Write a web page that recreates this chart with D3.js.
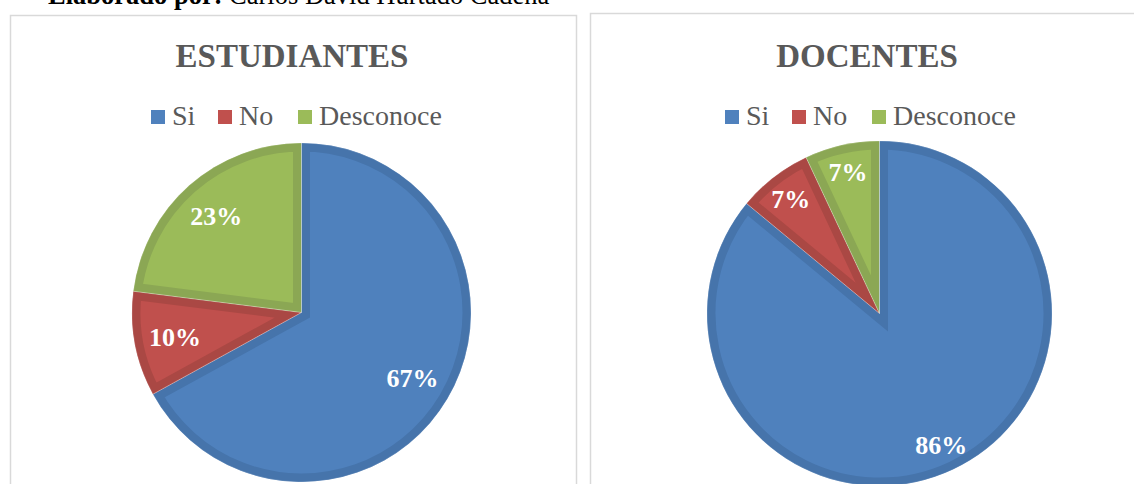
<!DOCTYPE html>
<html><head><meta charset="utf-8">
<script src="https://cdn.jsdelivr.net/npm/d3@7"></script>
<style>html,body{margin:0;padding:0;background:#fff;}svg{display:block;}</style>
</head><body>
<svg id="c" width="1134" height="484"></svg>
<script>
const categories = ["Si", "No", "Desconoce"];
const estudiantesValues = [67, 10, 23];
const docentesValues = [86, 7, 7];
const chartTitles = ["ESTUDIANTES", "DOCENTES"];
const fillColors = ["#4F81BD", "#C0504D", "#9BBB59"];
const edgeColors = ["#4674AB", "#AA4844", "#8BA754"];

const svg = d3.select("#c");
const serif = "Liberation Serif, Times New Roman, Tinos, serif";

// caption at top (cut off by the page edge, as in the reference)
const cap = svg.append("text").attr("x", 48).attr("y", 4)
  .attr("font-family", serif).attr("font-size", 26.5).attr("fill", "#000");
cap.append("tspan").attr("font-weight", "bold").text("Elaborado por: ");
cap.append("tspan").text("Carlos David Hurtado Cadena");

const panels = [
  {values: estudiantesValues, title: chartTitles[0], box: [10, 15, 566, 500], cx: 301.5, cy: 312.5, r: 169.5, titleX: 292, legendX: 151, lab: 0.76},
  {values: docentesValues, title: chartTitles[1], box: [590, 13, 560, 500], cx: 879.5, cy: 313.5, r: 172.5, titleX: 867, legendX: 725, lab: 0.84}
];

panels.forEach((p, pi) => {
  svg.append("rect").attr("x", p.box[0] + 0.5).attr("y", p.box[1] + 0.5)
    .attr("width", p.box[2]).attr("height", p.box[3])
    .attr("fill", "#fff").attr("stroke", "#D9D9D9").attr("stroke-width", 1.5);

  svg.append("text").attr("x", p.titleX).attr("y", 67).attr("text-anchor", "middle")
    .attr("font-family", serif).attr("font-weight", "bold").attr("font-size", 33)
    .attr("fill", "#595959").text(p.title);

  // legend
  const lg = svg.append("g").attr("transform", `translate(${p.legendX},0)`);
  const offsets = [0, 67, 147];
  categories.forEach((c, i) => {
    lg.append("rect").attr("x", offsets[i]).attr("y", 110).attr("width", 14).attr("height", 14)
      .attr("fill", fillColors[i]);
    lg.append("text").attr("x", offsets[i] + 21).attr("y", 125)
      .attr("font-family", serif).attr("font-size", 28).attr("fill", "#595959").text(c);
  });

  const pie = d3.pie().sort(null).value(d => d)(p.values);
  const arc = d3.arc().innerRadius(0).outerRadius(p.r);
  const g = svg.append("g").attr("transform", `translate(${p.cx},${p.cy})`);
  const defs = svg.append("defs");
  pie.forEach((d, i) => {
    const id = `clip${pi}_${i}`;
    defs.append("clipPath").attr("id", id).append("path").attr("d", arc(d));
    g.append("path").attr("d", arc(d)).attr("fill", fillColors[i])
      .attr("stroke", edgeColors[i]).attr("stroke-width", 17)
      .attr("stroke-linejoin", "miter")
      .attr("clip-path", `url(#${id})`);
  });
  pie.forEach((d, i) => {
    g.append("path").attr("d", arc(d)).attr("fill", "none")
      .attr("stroke", "#fff").attr("stroke-opacity", 0.35).attr("stroke-width", 0.6);
  });
  const labArc = d3.arc().innerRadius(p.r * p.lab).outerRadius(p.r * p.lab);
  pie.forEach((d, i) => {
    const [x, y] = labArc.centroid(d);
    g.append("text").attr("x", x).attr("y", y + 9).attr("text-anchor", "middle")
      .attr("font-family", serif).attr("font-weight", "bold").attr("font-size", 26)
      .attr("fill", "#fff").text(d.data + "%");
  });
});
</script>
</body></html>
